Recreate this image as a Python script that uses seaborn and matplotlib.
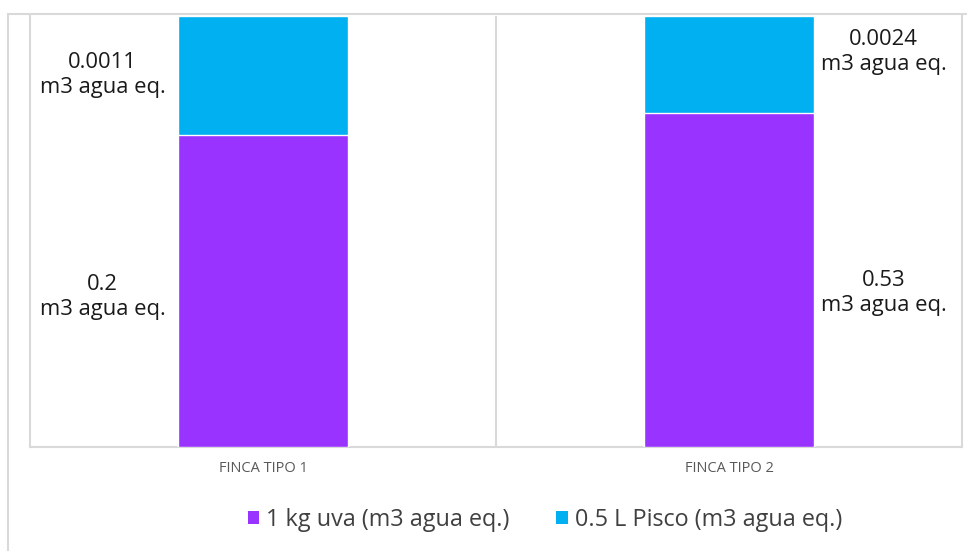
import matplotlib
matplotlib.use("Agg")
import matplotlib.pyplot as plt
from matplotlib.lines import Line2D
from matplotlib.patches import Patch
import seaborn as sns
import pandas as pd

# Share of each farm's column taken by each series (100% stacked columns)
categories = ["FINCA TIPO 1", "FINCA TIPO 2"]
uva_share = [0.724, 0.774]
pisco_share = [0.276, 0.226]

# Water footprint figures printed beside each segment
uva_values = ["0.2", "0.53"]
pisco_values = ["0.0011", "0.0024"]
unit = "m3 agua eq."

series_names = ["1 kg uva (m3 agua eq.)", "0.5 L Pisco (m3 agua eq.)"]
colors = ["#9933FF", "#00B0F0"]
grid_color = "#D9D9D9"

sns.set_theme(style="white")
plt.rcParams["font.family"] = ["Open Sans", "DejaVu Sans"]

df = pd.DataFrame({
    "finca": categories,
    "uva": uva_share,
    "pisco": pisco_share,
})
df["total"] = df["uva"] + df["pisco"]

W, H = 967, 551
fig = plt.figure(figsize=(W / 100, H / 100), dpi=100)
ax = fig.add_axes([30 / W, 1 - 447 / H, (962 - 30) / W, (447 - 16) / H])

bar_w = 0.365
sns.barplot(data=df, x="finca", y="total", color=colors[1], width=bar_w,
            saturation=1, ax=ax, zorder=3)
sns.barplot(data=df, x="finca", y="uva", color=colors[0], width=bar_w,
            saturation=1, ax=ax, zorder=3)

ax.set_xlim(-0.5, 1.5)
ax.set_ylim(0, 1)
ax.set_xlabel("")
ax.set_ylabel("")
ax.set_yticks([])
ax.tick_params(axis="x", length=0, pad=10, labelsize=10.5, labelcolor="#595959")

ax.spines["top"].set_visible(False)
for side in ["left", "right", "bottom"]:
    ax.spines[side].set_color(grid_color)
    ax.spines[side].set_linewidth(1.5)
# divider between the two farm categories
ax.axvline(0.5, color=grid_color, lw=1.5, zorder=1)

# segment labels: left of the first column, right of the second
label_x = [-0.344, 1.332]
pisco_dy = [0.0, 0.03]
uva_dy = [-0.015, -0.03]
for i in range(len(categories)):
    u = df["uva"][i]
    p = df["pisco"][i]
    ax.text(label_x[i], u + p / 2 + pisco_dy[i], f"{pisco_values[i]}\n{unit}",
            ha="center", va="center", fontsize=15.8, color="#1a1a1a",
            linespacing=1.25)
    ax.text(label_x[i], u / 2 + uva_dy[i], f"{uva_values[i]}\n{unit}",
            ha="center", va="center", fontsize=15.8, color="#1a1a1a",
            linespacing=1.25)

# outer chart frame
fig.add_artist(Line2D([8 / W, 8 / W], [0, 1 - 14 / H], transform=fig.transFigure,
                      color=grid_color, lw=1.5))
fig.add_artist(Line2D([8 / W, 1], [1 - 14 / H, 1 - 14 / H], transform=fig.transFigure,
                      color=grid_color, lw=1.5))

handles = [Patch(facecolor=c, edgecolor="none") for c in colors]
fig.legend(handles, series_names, loc="center", bbox_to_anchor=(545 / W, 1 - 520 / H),
           ncol=2, frameon=False, fontsize=16.8, handlelength=0.5, handleheight=0.5,
           handletextpad=0.3, columnspacing=2.0, labelcolor="#404040")

fig.savefig("out.png", dpi=100)
